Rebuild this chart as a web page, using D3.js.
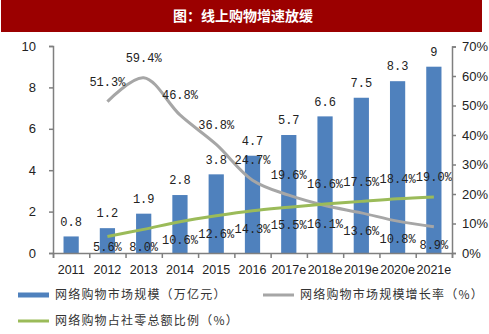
<!DOCTYPE html>
<html>
<head>
<meta charset="utf-8">
<script src="https://cdn.jsdelivr.net/npm/d3@7"></script>
<style>
  body { margin: 0; background: #fff; }
  svg { display: block; }
</style>
</head>
<body>
<svg id="chart" width="489" height="334"></svg>
<script>
const years = ["2011", "2012", "2013", "2014", "2015", "2016", "2017e", "2018e", "2019e", "2020e", "2021e"];
const marketSize = [0.8, 1.2, 1.9, 2.8, 3.8, 4.7, 5.7, 6.6, 7.5, 8.3, 9];
// growth rate and share of retail start from 2012
const growthRate = [null, 51.3, 59.4, 46.8, 36.8, 24.7, 19.6, 16.1, 13.6, 10.8, 8.9];
const retailShare = [null, 5.6, 8.0, 10.6, 12.6, 14.3, 15.5, 16.6, 17.5, 18.4, 19.0];
const leftTicks = [0, 2, 4, 6, 8, 10];
const rightTicks = [0, 10, 20, 30, 40, 50, 60, 70];
const legendNames = ["网络购物市场规模（万亿元）", "网络购物市场规模增长率（%）", "网络购物占社零总额比例（%）"];

const svg = d3.select("#chart");
const plotL = 53, plotR = 452, plotT = 46, plotB = 253;
const cjk = "'Noto Sans CJK SC', sans-serif";
const num = "'Liberation Mono', monospace";
const axisFont = "'Liberation Sans', Arial, sans-serif";

// title bar
svg.append("rect").attr("x", 1).attr("y", 0).attr("width", 481).attr("height", 32).attr("fill", "#9b0000");
svg.append("text").attr("x", 243).attr("y", 17).attr("text-anchor", "middle").attr("dominant-baseline", "middle")
  .attr("fill", "#fff").attr("font-family", cjk).attr("font-weight", "bold").attr("font-size", 14)
  .text("图：线上购物增速放缓");

const x = d3.scaleBand().domain(years).range([plotL, plotR]).paddingInner(0.58).paddingOuter(0.29);
const xEdge = d3.scaleLinear().domain([0, years.length]).range([plotL, plotR]);
const y = d3.scaleLinear().domain([0, 10]).range([plotB, plotT]);
const y2 = d3.scaleLinear().domain([0, 70]).range([plotB, plotT + 0.5]);
const cx = d => x(d) + x.bandwidth() / 2;

// bars
svg.selectAll(".bar").data(marketSize).enter().append("rect")
  .attr("x", (d, i) => x(years[i]))
  .attr("y", d => y(d))
  .attr("width", x.bandwidth())
  .attr("height", d => plotB - y(d))
  .attr("fill", "#4f81bd");

svg.selectAll(".barLabel").data(marketSize).enter().append("text")
  .attr("x", (d, i) => cx(years[i]))
  .attr("y", d => y(d) - 14)
  .attr("text-anchor", "middle").attr("dominant-baseline", "middle")
  .attr("font-family", num).attr("font-size", 12).attr("fill", "#222")
  .text(d => d);

// lines
const lineGen = d3.line()
  .defined(d => d.v != null)
  .x(d => cx(d.year))
  .y(d => y2(d.v))
  .curve(d3.curveCatmullRom);

const growthPts = years.map((year, i) => ({ year, v: growthRate[i] }));
const sharePts = years.map((year, i) => ({ year, v: retailShare[i] }));

svg.append("path").datum(growthPts).attr("d", lineGen)
  .attr("fill", "none").attr("stroke", "#a6a6a6").attr("stroke-width", 3);
svg.append("path").datum(sharePts).attr("d", lineGen)
  .attr("fill", "none").attr("stroke", "#9bbb59").attr("stroke-width", 3);

// line labels: the higher series gets its label above, the other below (kept inside the plot)
function pctLabels(values, other) {
  svg.selectAll(null).data(values.map((v, i) => ({ v, o: other[i], year: years[i] })).filter(d => d.v != null))
    .enter().append("text")
    .attr("x", d => cx(d.year))
    .attr("y", d => d.v > d.o ? y2(d.v) - 19 : Math.min(y2(d.v) + 19, plotB - 5))
    .attr("text-anchor", "middle").attr("dominant-baseline", "middle")
    .attr("font-family", num).attr("font-size", 12).attr("fill", "#222")
    .text(d => d.v.toFixed(1) + "%");
}
pctLabels(growthRate, retailShare);
pctLabels(retailShare, growthRate);

// axes
const axisColor = "#7f7f7f";
const gl = svg.append("g").attr("transform", `translate(${plotL},0)`)
  .call(d3.axisLeft(y).tickValues(leftTicks).tickSize(4).tickPadding(13).tickFormat(d3.format("d")));
const gr = svg.append("g").attr("transform", `translate(${plotR},0)`)
  .call(d3.axisRight(y2).tickValues(rightTicks).tickSize(4).tickPadding(6).tickFormat(d => d + "%"));
const gb = svg.append("g").attr("transform", `translate(0,${plotB})`)
  .call(d3.axisBottom(xEdge).tickValues(d3.range(years.length + 1)).tickSize(5).tickFormat(""));
const gbl = svg.append("g").attr("transform", `translate(0,${plotB})`)
  .call(d3.axisBottom(x).tickSize(0).tickPadding(12));
gbl.select(".domain").remove();

[gl, gr, gb].forEach(g => {
  g.select(".domain").attr("stroke", axisColor).attr("stroke-width", 1.5);
  g.selectAll(".tick line").attr("stroke", axisColor).attr("stroke-width", 1.5);
});
[gl, gr, gbl].forEach(g => g.selectAll("text").attr("font-family", axisFont).attr("font-size", 13).attr("fill", "#222"));
gbl.selectAll("text").attr("font-size", 12.5);

// legend
const legend = [
  { name: legendNames[0], color: "#4f81bd", x: 18, y: 295, h: 5 },
  { name: legendNames[1], color: "#a6a6a6", x: 263, y: 295, h: 3 },
  { name: legendNames[2], color: "#9bbb59", x: 18, y: 321, h: 3 }
];
const lg = svg.selectAll(".legend").data(legend).enter().append("g");
lg.append("rect").attr("x", d => d.x).attr("y", d => d.y - d.h / 2).attr("width", 31).attr("height", d => d.h).attr("fill", d => d.color);
lg.append("text").attr("x", d => d.x + 37).attr("y", d => d.y + 1).attr("dominant-baseline", "middle")
  .attr("font-family", cjk).attr("font-size", 12).attr("letter-spacing", 1.2).attr("fill", "#333")
  .text(d => d.name);
</script>
</body>
</html>
